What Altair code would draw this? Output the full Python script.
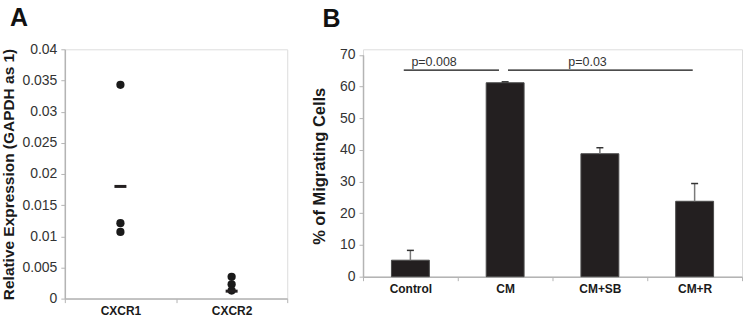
import altair as alt
import pandas as pd

FONT = "Liberation Sans"

# ---- Panel A data ----
a_genes = ["CXCR1", "CXCR1", "CXCR1", "CXCR2", "CXCR2", "CXCR2"]
a_values = [0.0343, 0.0121, 0.0107, 0.0035, 0.0023, 0.0013]
a_mean_genes = ["CXCR1", "CXCR2"]
a_means = [0.0180, 0.0012]
a_ticks = [0, 0.005, 0.01, 0.015, 0.02, 0.025, 0.03, 0.035, 0.04]

# ---- Panel B data ----
b_groups = ["Control", "CM", "CM+SB", "CM+R"]
b_values = [5.2, 61.2, 38.8, 23.8]
b_errors = [3.1, 0.3, 1.9, 5.6]
b_ticks = [0, 10, 20, 30, 40, 50, 60, 70]
sig_start = ["Control", "CM"]
sig_end = ["CM", "CM+R"]
sig_text_at = ["Control", "CM+SB"]
sig_labels = ["p=0.008", "p=0.03"]
sig_line_y = [65.2, 65.2]
sig_text_y = [67.6, 67.6]

panel_letters = ["A", "B"]

DARK = "#231f20"
AXISC = "#b4b4b4"

ya_axis = alt.Axis(title="Relative Expression (GAPDH as 1)", values=a_ticks, format="~g",
                   titlePadding=5, titleFontSize=15.5)
yb_axis = alt.Axis(title="% of Migrating Cells", values=b_ticks, format="d",
                   titlePadding=12, titleFontSize=16.5)
x_axis = alt.Axis(title=None, labelAngle=0, tickBand="extent")

# ---------- Panel A ----------
dfa = pd.DataFrame({"gene": a_genes, "value": a_values})
dfa_mean = pd.DataFrame({"gene": a_mean_genes, "mean": a_means})
xa_scale = alt.Scale(domain=a_mean_genes, paddingInner=0, paddingOuter=0)
ya_scale = alt.Scale(domain=[0, 0.04], nice=False)

pts = alt.Chart(dfa).mark_circle(size=68, color="#1a1a1a", opacity=1).encode(
    x=alt.X("gene:N", scale=xa_scale, axis=x_axis),
    y=alt.Y("value:Q", scale=ya_scale, axis=ya_axis),
)
means = alt.Chart(dfa_mean).mark_tick(size=12, thickness=3, color=DARK, opacity=1).encode(
    x=alt.X("gene:N", scale=xa_scale, axis=x_axis),
    y=alt.Y("mean:Q", scale=ya_scale, axis=ya_axis),
)
letterA = alt.Chart(pd.DataFrame({"t": [panel_letters[0]]})).mark_text(
    fontSize=25, fontWeight="bold", font=FONT, color="#111111",
    align="center", baseline="middle").encode(
    text="t:N", x=alt.value(-46), y=alt.value(-31))

chartA = alt.layer(pts, means, letterA).properties(width=223, height=250)

# ---------- Panel B ----------
dfb = pd.DataFrame({"group": b_groups, "value": b_values,
                    "upper": [v + e for v, e in zip(b_values, b_errors)]})
xb_scale = alt.Scale(domain=b_groups, paddingInner=0, paddingOuter=0)
yb_scale = alt.Scale(domain=[0, 70], nice=False, range=[228, 5.6])

bars = alt.Chart(dfb).mark_bar(size=38, color=DARK, stroke="#4a4a4a", strokeWidth=1).encode(
    x=alt.X("group:N", scale=xb_scale, axis=x_axis),
    y=alt.Y("value:Q", scale=yb_scale, axis=yb_axis),
)
errs = alt.Chart(dfb).mark_rule(color="#7a7a7a", strokeWidth=1.5).encode(
    x=alt.X("group:N", scale=xb_scale, axis=x_axis),
    y=alt.Y("value:Q", scale=yb_scale, axis=yb_axis), y2="upper:Q")
caps = alt.Chart(dfb).mark_tick(size=7, thickness=1.5, color="#333333", opacity=1).encode(
    x=alt.X("group:N", scale=xb_scale, axis=x_axis),
    y=alt.Y("upper:Q", scale=yb_scale, axis=yb_axis))

sig_layers = []
band_start = [0.43, 0.53]
band_end = [0.435, 0.48]
band_text = [0.75, 0.37]
for i in range(len(sig_labels)):
    d = pd.DataFrame({"s": [sig_start[i]], "e": [sig_end[i]], "tx": [sig_text_at[i]],
                      "ly": [sig_line_y[i]], "ty": [sig_text_y[i]], "lab": [sig_labels[i]]})
    line = alt.Chart(d).mark_rule(color="#111111", strokeWidth=1.3).encode(
        x=alt.X("s:N", scale=xb_scale, axis=x_axis, bandPosition=band_start[i]),
        x2=alt.X2("e:N", bandPosition=band_end[i]),
        y=alt.Y("ly:Q", scale=yb_scale, axis=yb_axis),
    )
    txt = alt.Chart(d).mark_text(fontSize=12.5, font=FONT, color="#333333",
                                 baseline="middle", align="center").encode(
        x=alt.X("tx:N", scale=xb_scale, axis=x_axis, bandPosition=band_text[i]),
        y=alt.Y("ty:Q", scale=yb_scale, axis=yb_axis),
        text="lab:N",
    )
    sig_layers += [line, txt]

letterB = alt.Chart(pd.DataFrame({"t": [panel_letters[1]]})).mark_text(
    fontSize=25, fontWeight="bold", font=FONT, color="#111111",
    align="center", baseline="middle").encode(
    text="t:N", x=alt.value(-31.5), y=alt.value(-30.5))

chartB = alt.layer(bars, errs, caps, *sig_layers, letterB).properties(width=380, height=228)

chart = alt.hconcat(chartA, chartB, spacing=22).properties(
    padding={"left": 1, "top": 5, "right": 0, "bottom": 0}
).configure_view(stroke=None).configure(background="white").configure_axis(
    grid=False, domainColor=AXISC, domainWidth=1.5, tickColor=AXISC, tickSize=4,
    labelFont=FONT, titleFont=FONT,
).configure_axisY(
    labelColor="#333333", labelFontSize=14, labelPadding=4, labelOverlap=False,
    titleFontWeight="bold", titleColor="#1a1a1a",
).configure_axisX(
    labelColor="#1a1a1a", labelFontSize=12, labelFontWeight="bold", labelPadding=3,
)

chart.save("out.html", embed_options={"renderer": "svg", "actions": False})
